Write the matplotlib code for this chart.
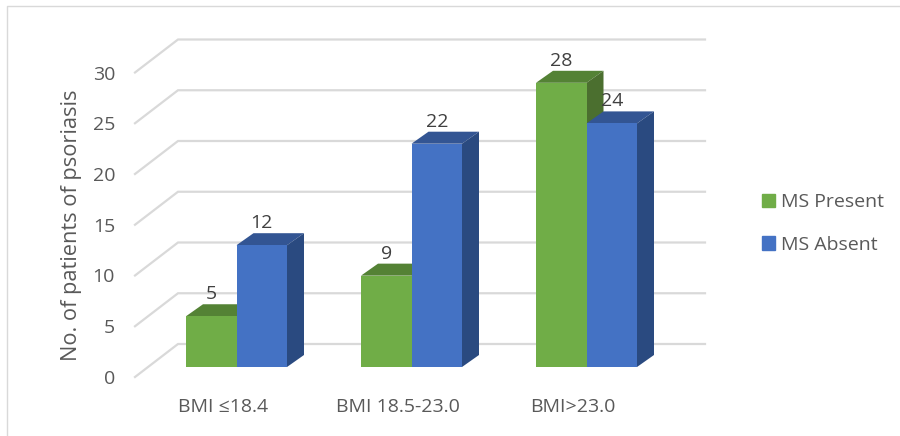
"""Pseudo-3D clustered column chart: psoriasis patients by BMI group."""
import matplotlib
matplotlib.use("Agg")
import matplotlib.pyplot as plt
from matplotlib.lines import Line2D
from matplotlib.patches import Patch
import numpy as np

categories = ["BMI ≤18.4", "BMI 18.5-23.0", "BMI>23.0"]
ms_present = [5, 9, 28]
ms_absent = [12, 22, 24]
y_ticks = [0, 5, 10, 15, 20, 25, 30]

GREEN = "#70ad47"
GREEN_TOP = "#548235"
GREEN_SIDE = "#4b6f2f"
BLUE = "#4472c4"
BLUE_TOP = "#335593"
BLUE_SIDE = "#2a4a80"
GRID = "#d9d9d9"
TEXT = "#595959"
LABEL = "#404040"

W, H = 900, 436
PX_X = 175.0    # pixels per category
PX_Y = 10.15    # pixels per unit of value
X0 = 236.5      # pixel x of first category
Y0 = 367.0      # pixel y of value 0 at the bar front

plt.rcParams["font.family"] = "Open Sans"

fig = plt.figure(figsize=(W / 100, H / 100), dpi=100)
ax = fig.add_axes([0, 0, 1, 1])
ax.set_xlim(-X0 / PX_X, (W - X0) / PX_X)
ax.set_ylim((Y0 - H) / PX_Y, Y0 / PX_Y)
ax.axis("off")

dx = 17 / PX_X          # bar depth
dy = 12 / PX_Y
bar_w = 50.5 / PX_X

# floor/wall gridlines
grid_back = 23 / PX_Y
grid_front = -10 / PX_Y
x_front = (135 - X0) / PX_X
x_back = (178 - X0) / PX_X
x_end = (705 - X0) / PX_X
for v in y_ticks:
    ax.plot([x_front, x_back, x_end],
            [v + grid_front, v + grid_back, v + grid_back],
            color=GRID, lw=1.6, zorder=1, solid_joinstyle="miter")
    ax.text((115 - X0) / PX_X, v + grid_front - 2 / PX_Y, str(v), ha="right",
            va="center", fontsize=14, color=TEXT)


def column(xc, v, front, top, side, z):
    l, r = xc - bar_w / 2, xc + bar_w / 2
    ax.bar(xc, v, width=bar_w, color=front, zorder=z + 0.2)
    ax.fill([l, l + dx, r + dx, r], [v, v + dy, v + dy, v], color=top, lw=0, zorder=z)
    ax.fill([r, r + dx, r + dx, r], [0, dy, v + dy, v], color=side, lw=0, zorder=z)


x = np.arange(len(categories))
for i in x:
    xl = i - bar_w / 2
    xr = i + bar_w / 2
    column(xl, ms_present[i], GREEN, GREEN_TOP, GREEN_SIDE, 2)
    column(xr, ms_absent[i], BLUE, BLUE_TOP, BLUE_SIDE, 3)
    for xc, v in [(xl, ms_present[i]), (xr, ms_absent[i])]:
        ax.text(xc, v + 22 / PX_Y, str(v), ha="center", va="center",
                fontsize=14, color=LABEL, zorder=5)
    ax.text(i - 13.5 / PX_X, (Y0 - 407) / PX_Y, categories[i], ha="center",
            va="center", fontsize=14, color=TEXT)

ax.text((71 - X0) / PX_X, (Y0 - 225) / PX_Y, "No. of patients of psoriasis",
        rotation=90, ha="center", va="center", fontsize=15.7, color=TEXT)

handles = [Patch(color=GREEN, label="MS Present"), Patch(color=BLUE, label="MS Absent")]
ax.legend(handles=handles, loc="center left",
          bbox_to_anchor=(744.5 / W, 1 - 223.5 / H), bbox_transform=fig.transFigure,
          frameon=False, fontsize=14, labelcolor=TEXT, handlelength=0.67,
          handleheight=0.67, handletextpad=0.31, labelspacing=1.27)

# chart frame
fig.add_artist(Line2D([7 / W, 7 / W, 1], [0, 1 - 6 / H, 1 - 6 / H], color="#d9d9d9", lw=1))

fig.savefig("out.png", dpi=100)
